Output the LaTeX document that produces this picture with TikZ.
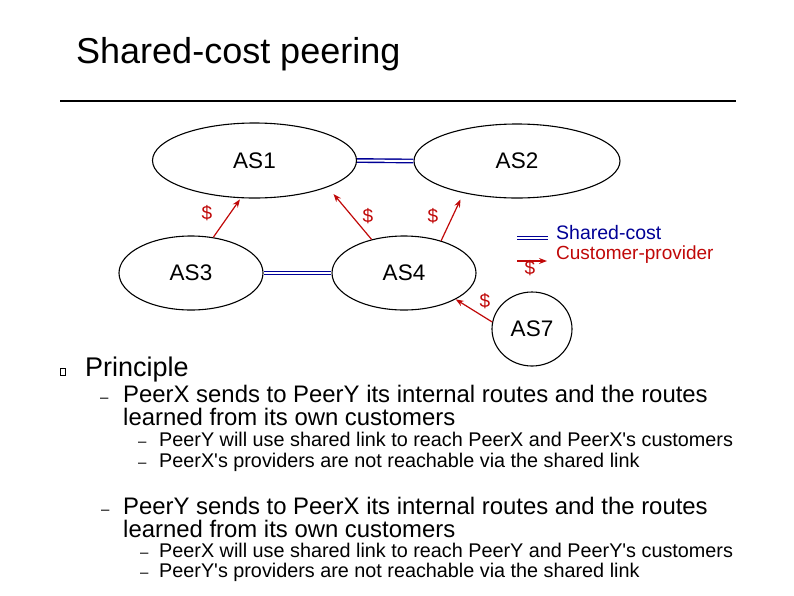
\documentclass[tikz,border=0pt]{standalone}
\usepackage{fontspec}
\setmainfont{Liberation Sans}
\usetikzlibrary{shapes.geometric}
\usetikzlibrary{arrows.meta, positioning}

\definecolor{asblue}{RGB}{0,0,150}
\definecolor{asred}{RGB}{192,8,8}

\tikzset{
    asnode/.style={ellipse, draw, line width=1.1pt, inner sep=0pt,
        font=\fontsize{22.5}{26}\selectfont},
    sharedlink/.style={draw=asblue, double=white, double distance=2pt, line width=1.4pt},
    custlink/.style={draw=asred, line width=1.2pt, -{Stealth[length=8pt,width=6pt]}},
    dollar/.style={text=asred, font=\fontsize{19}{21}\selectfont},
    mainitem/.style={anchor=base west, inner sep=0pt, font=\fontsize{23.9}{28}\selectfont},
    subitem/.style={anchor=base west, inner sep=0pt, font=\fontsize{19.8}{23}\selectfont},
    dashmark/.style={anchor=base west, inner sep=0pt, font=\fontsize{15}{18}\selectfont}
}

\begin{document}
\begin{tikzpicture}[x=1pt, y=-1pt]
    \useasboundingbox (0,0) rectangle (794,595);

    % Title and rule
    \node[anchor=base west, inner sep=0pt, font=\fontsize{36}{40}\selectfont] (title) at (76,63) {Shared-cost peering};
    \draw[line width=1.6pt] (60,101) -- (736,101);

    % Draw the AS ellipses
    \node[asnode, minimum width=204pt, minimum height=75pt] (AS1) at (254.5,160.5) {AS1};
    \node[asnode, minimum width=206pt, minimum height=74pt] (AS2) at (517,161) {AS2};
    \node[asnode, minimum width=144pt, minimum height=74pt] (AS3) at (191,273) {AS3};
    \node[asnode, minimum width=144pt, minimum height=74pt] (AS4) at (404,273) {AS4};
    \node[asnode, minimum width=80pt, minimum height=74pt] (AS7) at (532,329) {AS7};

    % Shared-cost links
    \draw[sharedlink] (AS1.east) -- (AS2.west);
    \draw[sharedlink] (AS3.east) -- (AS4.west);

    % Customer-provider links
    \draw[custlink, shorten >=1.5pt] (AS3.58) -- (AS1.250);
    \draw[custlink, shorten >=9pt] (AS4.134) -- (AS1.-20);
    \draw[custlink, shorten >=7pt] (AS4.41) -- (AS2.211);
    \draw[custlink] (AS7.170) -- (AS4.-27);

    % Dollar signs
    \node[dollar] (d31) at (207,213) {\$};
    \node[dollar] (d41) at (368,216) {\$};
    \node[dollar] (d42) at (433,216) {\$};
    \node[dollar] (d74) at (485,301) {\$};

    % Legend
    \coordinate (sharedA) at (517,238);
    \coordinate (sharedB) at (548,238);
    \coordinate (custA) at (517,261);
    \coordinate (custB) at (547,261);
    \draw[sharedlink] (sharedA) -- (sharedB);
    \draw[custlink] (custA) -- (custB);
    \node[dollar] (dleg) at (530,268) {\$};
    \node[anchor=west, inner sep=0pt, text=asblue, font=\fontsize{19.5}{22}\selectfont] (legshared) at (556,233) {Shared-cost};
    \node[anchor=west, inner sep=0pt, text=asred, font=\fontsize{19}{22}\selectfont] (legcust) at (556,255) {Customer-provider};

    % Principle
    \node[draw, line width=0.6pt, minimum width=5pt, minimum height=7pt, inner sep=0pt] (bullet) at (63,372) {};
    \node[anchor=base west, inner sep=0pt, font=\fontsize{27}{30}\selectfont] (principle) at (85,376) {Principle};

    % PeerX to PeerY
    \node[dashmark] (dash1) at (100,402) {--};
    \node[mainitem] (xsend1) at (123,402) {PeerX sends to PeerY its internal routes and the routes};
    \node[mainitem] (xsend2) at (123,425) {learned from its own customers};
    \node[dashmark] (dash11) at (138,446) {--};
    \node[subitem] (xsub1) at (159,446) {PeerY will use shared link to reach PeerX and PeerX\textquotesingle s customers};
    \node[dashmark] (dash12) at (138,467) {--};
    \node[subitem] (xsub2) at (159,467) {PeerX\textquotesingle s providers are not reachable via the shared link};

    % PeerY to PeerX
    \node[dashmark] (dash2) at (101,514) {--};
    \node[mainitem] (ysend1) at (123,514) {PeerY sends to PeerX its internal routes and the routes};
    \node[mainitem] (ysend2) at (123,537) {learned from its own customers};
    \node[dashmark] (dash21) at (140,557) {--};
    \node[subitem] (ysub1) at (159,557) {PeerX will use shared link to reach PeerY and PeerY\textquotesingle s customers};
    \node[dashmark] (dash22) at (140,577) {--};
    \node[subitem] (ysub2) at (159,577) {PeerY\textquotesingle s providers are not reachable via the shared link};

\end{tikzpicture}
\end{document}
